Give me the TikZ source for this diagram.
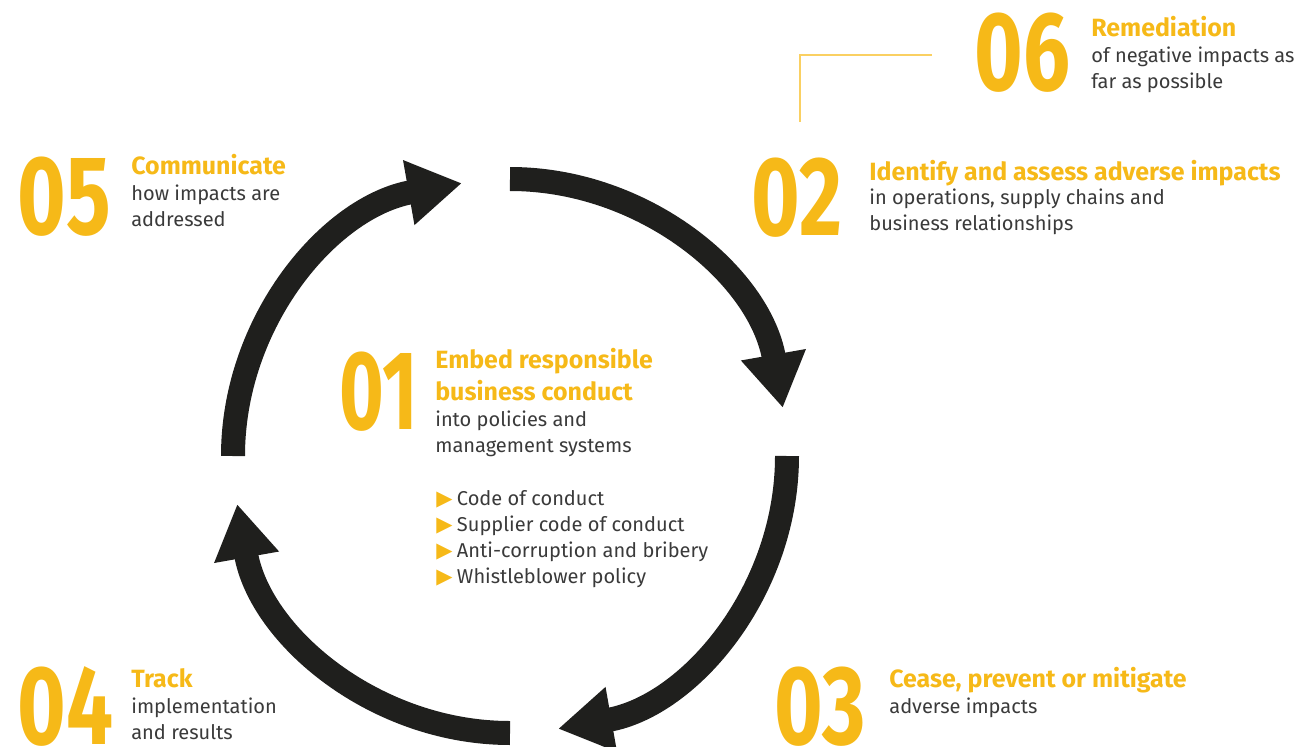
\documentclass[tikz,border=0pt]{standalone}
\usepackage{fontspec}
\setmainfont{Fira Sans}
\newfontfamily\symfont{DejaVu Sans}
\usetikzlibrary{arrows.meta}
\definecolor{hlyellow}{RGB}{246,185,24}
\definecolor{lnyellow}{RGB}{250,208,98}
\definecolor{cycdark}{RGB}{31,31,29}
\definecolor{txtgray}{RGB}{58,58,58}
\newcommand{\tribullet}{{\symfont\color{hlyellow}\fontsize{12}{12}\selectfont ▶}\hspace{2.5pt}}
\newcommand{\stepnum}[2][0.74]{\scalebox{#1}[1]{#2}}

\begin{document}
\begin{tikzpicture}[x=0.02cm, y=-0.02cm,
    num/.style={anchor=base west, inner sep=0, text=hlyellow, font=\fontsize{64}{64}\selectfont\bfseries},
    head/.style={anchor=base west, inner sep=0, align=left, text=hlyellow, font=\fontsize{14.2}{18.1}\selectfont\bfseries},
    body/.style={anchor=base west, inner sep=0, align=left, text=txtgray, font=\fontsize{11.4}{14.74}\selectfont},
    cyc/.style={draw=cycdark, line width=0.48cm, -{Triangle[length=1.08cm, width=1.24cm]}},
    link/.style={draw=lnyellow, line width=1.2pt}
]
    \useasboundingbox (0,0) rectangle (1306,747);

    % Cycle arrows round the centre
    \coordinate (c) at (510,456);
    \draw[cyc] ([shift={(-90:277)}]c) arc[start angle=-90, end angle=-10, radius=277];
    \draw[cyc] ([shift={(0:277)}]c) arc[start angle=0, end angle=80, radius=277];
    \draw[cyc] ([shift={(90:277)}]c) arc[start angle=90, end angle=170, radius=277];
    \draw[cyc] ([shift={(180:277)}]c) arc[start angle=180, end angle=260, radius=277];

    % Step 01 in the middle (base = last line)
    \node[num] (n01) at (339,429) {\stepnum[0.68]{01}};
    \node[head] (h01) at (435,400) {Embed responsible\\business conduct};
    \node[body] (b01) at (435,452) {into policies and\\management systems};
    \node[body] (l01) at (436,583) {\tribullet Code of conduct\\\tribullet Supplier code of conduct\\\tribullet Anti-corruption and bribery\\\tribullet Whistleblower policy};

    % Step 02
    \node[num] (n02) at (751,235) {\stepnum{02}};
    \node[head] (h02) at (869,180) {Identify and assess adverse impacts};
    \node[body] (b02) at (869,230) {in operations, supply chains and\\business relationships};

    % Step 03
    \node[num] (n03) at (774,744) {\stepnum{03}};
    \node[head] (h03) at (889,687) {Cease, prevent or mitigate};
    \node[body] (b03) at (889,713) {adverse impacts};

    % Step 04
    \node[num] (n04) at (17,744) {\stepnum{04}};
    \node[head] (h04) at (131,687) {Track};
    \node[body] (b04) at (131,739) {implementation\\and results};

    % Step 05
    \node[num] (n05) at (17,234) {\stepnum{05}};
    \node[head] (h05) at (131,174) {Communicate};
    \node[body] (b05) at (131,226) {how impacts are\\addressed};

    % Step 06 with its link line
    \node[num] (n06) at (974,91) {\stepnum{06}};
    \node[head] (h06) at (1091,36) {Remediation};
    \node[body] (b06) at (1091,88) {of negative impacts as\\far as possible};
    \coordinate (l02) at (800,122);
    \coordinate (l06) at (932,55);
    \draw[link] (l02) |- (l06);
\end{tikzpicture}
\end{document}
